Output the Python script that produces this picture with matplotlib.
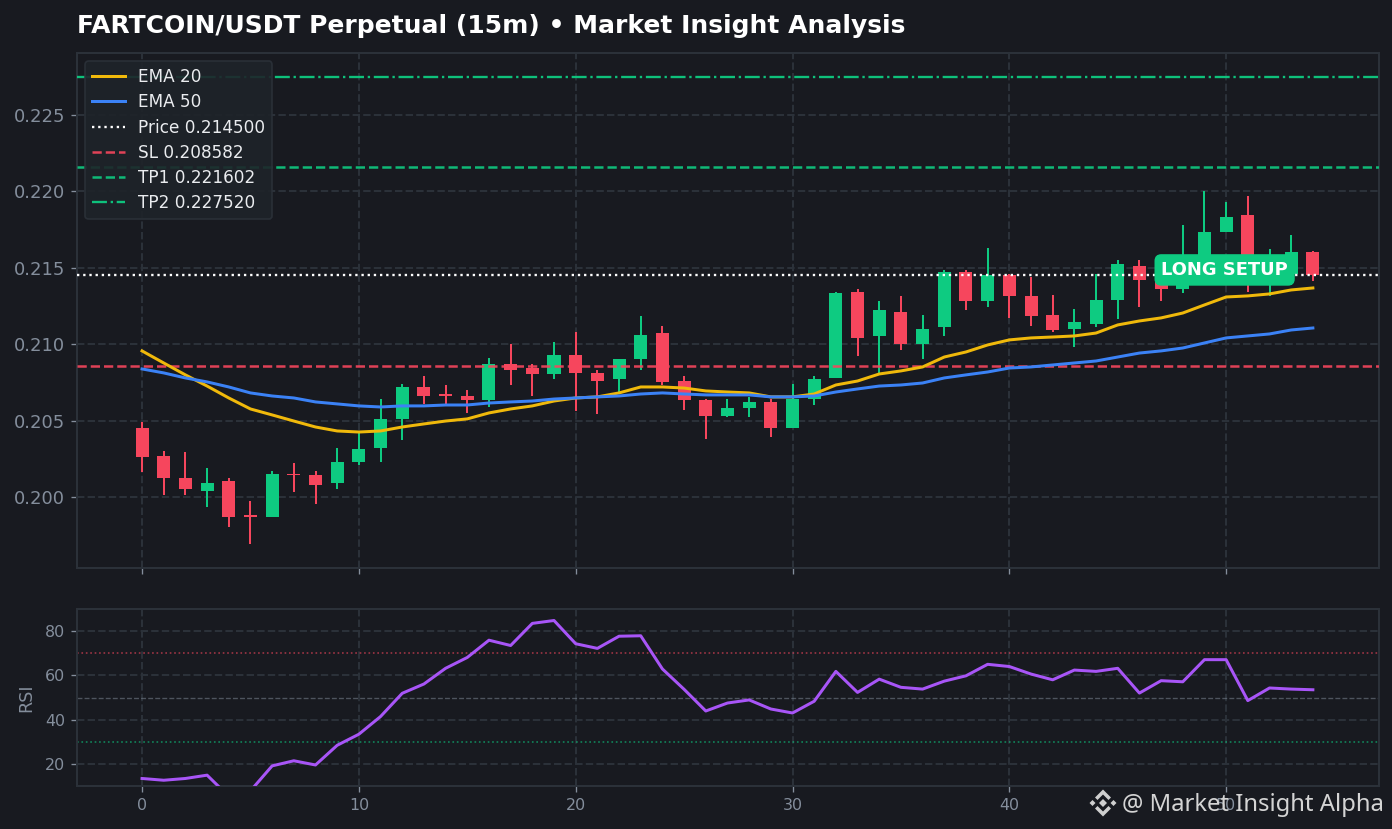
#!/usr/bin/env python3
import matplotlib
matplotlib.use("Agg")
import matplotlib.pyplot as plt
from matplotlib.patches import Polygon
import numpy as np

opens = [0.20452, 0.20268, 0.20124, 0.20039, 0.20105, 0.19882, 0.19869, 0.20151, 0.20144, 0.20092, 0.20229,
         0.20321, 0.20511, 0.20720, 0.20674, 0.20661, 0.20635, 0.20870, 0.20844, 0.20805, 0.20929, 0.20812,
         0.20772, 0.20903, 0.21073, 0.20759, 0.20635, 0.20530, 0.20583, 0.20622, 0.20452, 0.20641, 0.20779,
         0.21342, 0.21054, 0.21211, 0.21001, 0.21113, 0.21473, 0.21283, 0.21453, 0.21316, 0.21191, 0.21100,
         0.21132, 0.21289, 0.21512, 0.21499, 0.21361, 0.21538, 0.21734, 0.21846, 0.21420, 0.21460, 0.21604]
highs = [0.20491, 0.20301, 0.20295, 0.20190, 0.20124, 0.19974, 0.20170, 0.20223, 0.20170, 0.20321, 0.20425,
         0.20641, 0.20740, 0.20792, 0.20733, 0.20700, 0.20910, 0.21001, 0.20870, 0.21014, 0.21080, 0.20831,
         0.20903, 0.21185, 0.21119, 0.20792, 0.20641, 0.20641, 0.20655, 0.20641, 0.20740, 0.20792, 0.21342,
         0.21361, 0.21283, 0.21316, 0.21191, 0.21486, 0.21486, 0.21630, 0.21460, 0.21440, 0.21322, 0.21230,
         0.21460, 0.21551, 0.21551, 0.21564, 0.21780, 0.22003, 0.21931, 0.21970, 0.21623, 0.21715, 0.21610]
lows = [0.20164, 0.20013, 0.20013, 0.19935, 0.19804, 0.19692, 0.19869, 0.20033, 0.19954, 0.20052, 0.20209,
        0.20229, 0.20373, 0.20609, 0.20602, 0.20550, 0.20589, 0.20733, 0.20661, 0.20772, 0.20563, 0.20543,
        0.20681, 0.20831, 0.20733, 0.20569, 0.20380, 0.20524, 0.20524, 0.20393, 0.20452, 0.20602, 0.20779,
        0.20923, 0.20812, 0.20962, 0.20903, 0.21054, 0.21224, 0.21244, 0.21172, 0.21119, 0.21080, 0.20982,
        0.21113, 0.21165, 0.21244, 0.21283, 0.21335, 0.21499, 0.21734, 0.21342, 0.21316, 0.21388, 0.21414]
closes = [0.20262, 0.20124, 0.20052, 0.20092, 0.19869, 0.19869, 0.20151, 0.20144, 0.20079, 0.20229, 0.20314,
          0.20511, 0.20720, 0.20661, 0.20661, 0.20635, 0.20870, 0.20831, 0.20805, 0.20929, 0.20812, 0.20759,
          0.20903, 0.21060, 0.20753, 0.20635, 0.20530, 0.20583, 0.20622, 0.20452, 0.20641, 0.20772, 0.21335,
          0.21041, 0.21224, 0.21001, 0.21100, 0.21473, 0.21283, 0.21453, 0.21316, 0.21185, 0.21093, 0.21145,
          0.21289, 0.21525, 0.21420, 0.21361, 0.21538, 0.21734, 0.21833, 0.21538, 0.21538, 0.21604, 0.21453]
ema20 = [0.20956, 0.20877, 0.20799, 0.20726, 0.20648, 0.20576, 0.20537, 0.20497, 0.20458, 0.20432, 0.20425,
         0.20432, 0.20458, 0.20478, 0.20497, 0.20511, 0.20550, 0.20576, 0.20596, 0.20628, 0.20648, 0.20655,
         0.20681, 0.20720, 0.20720, 0.20713, 0.20694, 0.20687, 0.20681, 0.20655, 0.20655, 0.20674, 0.20733,
         0.20759, 0.20805, 0.20825, 0.20851, 0.20916, 0.20949, 0.20995, 0.21028, 0.21041, 0.21047, 0.21054,
         0.21073, 0.21126, 0.21152, 0.21172, 0.21204, 0.21257, 0.21309, 0.21316, 0.21329, 0.21355, 0.21368]
ema50 = [0.20838, 0.20812, 0.20779, 0.20753, 0.20720, 0.20681, 0.20661, 0.20648, 0.20622, 0.20609, 0.20596,
         0.20589, 0.20596, 0.20596, 0.20602, 0.20602, 0.20615, 0.20622, 0.20628, 0.20641, 0.20648, 0.20655,
         0.20661, 0.20674, 0.20681, 0.20674, 0.20668, 0.20668, 0.20668, 0.20655, 0.20655, 0.20661, 0.20687,
         0.20707, 0.20726, 0.20733, 0.20746, 0.20779, 0.20799, 0.20818, 0.20844, 0.20851, 0.20864, 0.20877,
         0.20890, 0.20916, 0.20942, 0.20956, 0.20975, 0.21008, 0.21041, 0.21054, 0.21067, 0.21093, 0.21106]
rsi = [13.4, 12.6, 13.4, 14.9, 5.3, 7.8, 19.1, 21.4, 19.5, 28.4, 33.4, 41.4, 51.9, 56.1, 63.2, 68.1, 75.9,
       73.5, 83.5, 84.8, 74.3, 72.2, 77.7, 77.9, 62.9, 53.7, 43.9, 47.5, 48.9, 44.8, 43.0, 48.3, 61.8, 52.3,
       58.3, 54.6, 53.8, 57.4, 59.8, 65.0, 64.0, 60.6, 58.0, 62.4, 61.8, 63.2, 52.0, 57.6, 57.1, 67.1, 67.1,
       48.6, 54.3, 53.8, 53.5]

price = 0.2145
sl = 0.208582
tp1 = 0.221602
tp2 = 0.22752

BG = "#181a20"
GRID = "#2b3139"
MUTED = "#848e9c"
GREEN = "#0ecb81"
RED = "#f6465d"
GOLD = "#f0b90b"
BLUE = "#3b82f6"
PURPLE = "#a855f7"

W, H = 1392, 829
DPI = 120


def px_axes(left, top, right, bottom):
    return [left / W, 1 - bottom / H, (right - left) / W, (bottom - top) / H]


def style_axes(ax):
    ax.set_facecolor(BG)
    ax.grid(True, color=GRID, linestyle="--", linewidth=1.2, zorder=0)
    ax.set_axisbelow(True)
    ax.tick_params(colors=MUTED, labelsize=9.5, length=3.5, width=0.8)
    for s in ax.spines.values():
        s.set_color(GRID)
        s.set_linewidth(1.2)


fig = plt.figure(figsize=(W / DPI, H / DPI), dpi=DPI, facecolor=BG)
ax = fig.add_axes(px_axes(77, 53, 1379, 568))
ax_rsi = fig.add_axes(px_axes(77, 609, 1379, 786), sharex=ax)
style_axes(ax)
style_axes(ax_rsi)

x = np.arange(len(closes))
o = np.array(opens)
c = np.array(closes)
colors = [GREEN if up else RED for up in c >= o]

ax.vlines(x, lows, highs, colors=colors, linewidth=1.2, zorder=2)
ax.bar(x, np.abs(c - o), bottom=np.minimum(o, c), width=0.6, color=colors, linewidth=0, zorder=3)

ax.axhline(price, color="white", linestyle=":", linewidth=1.4, zorder=4, label=f"Price {price:.6f}")
ax.axhline(sl, color=RED, linestyle="--", linewidth=1.5, alpha=0.9, zorder=4, label=f"SL {sl:.6f}")
ax.axhline(tp1, color=GREEN, linestyle="--", linewidth=1.5, alpha=0.9, zorder=4, label=f"TP1 {tp1:.6f}")
ax.axhline(tp2, color=GREEN, linestyle="-.", linewidth=1.4, alpha=0.95, zorder=4, label=f"TP2 {tp2:.6f}")
ax.plot(x, ema20, color=GOLD, linewidth=1.8, zorder=5, label="EMA 20")
ax.plot(x, ema50, color=BLUE, linewidth=1.8, zorder=5, label="EMA 50")

ax.set_xlim(-3, 57.05)
ax.set_ylim(0.19535, 0.22906)
ax.set_xticks(range(0, 60, 10))
ax.set_yticks([0.200, 0.205, 0.210, 0.215, 0.220, 0.225])
ax.set_yticklabels(["0.200", "0.205", "0.210", "0.215", "0.220", "0.225"])
ax.tick_params(axis="x", labelbottom=False)
ax.tick_params(axis="y", labelsize=10.8)

handles, labels = ax.get_legend_handles_labels()
order = [4, 5, 0, 1, 2, 3]
leg = ax.legend([handles[i] for i in order], [labels[i] for i in order], loc="upper left",
                facecolor="#1e2329", edgecolor=GRID, framealpha=0.9, labelcolor="#eaecef",
                fontsize=10.1, labelspacing=0.43, handlelength=1.95)
leg.set_zorder(6)

ax.text(49.93, 0.21486, "LONG SETUP", color="white", fontweight="bold", fontsize=10.75, ha="center", va="center",
        zorder=7, bbox=dict(boxstyle="round,pad=0.33", facecolor=GREEN, edgecolor=GREEN))

ax_rsi.axhline(70, color=RED, linestyle=":", linewidth=1.0, alpha=0.6, zorder=1)
ax_rsi.axhline(30, color=GREEN, linestyle=":", linewidth=1.0, alpha=0.6, zorder=1)
ax_rsi.axhline(50, color=MUTED, linestyle="--", linewidth=0.8, alpha=0.5, zorder=1)
ax_rsi.plot(x, rsi, color=PURPLE, linewidth=1.8, zorder=3)
ax_rsi.set_ylim(10, 90)
ax_rsi.set_yticks([20, 40, 60, 80])
ax_rsi.set_ylabel("RSI", color=MUTED, fontsize=10.5, labelpad=6)

fig.text(77 / W, 1 - 33 / H, "FARTCOIN/USDT Perpetual (15m) • Market Insight Analysis",
         color="white", fontweight="bold", fontsize=15, ha="left", va="baseline")

# watermark: logo is drawn in pixel space, relative to its centre
fig.text(1122 / W, 1 - 811 / H, "@ Market Insight Alpha", color="#d4d4d4", family="Noto Sans",
         fontsize=14.3, ha="left", va="baseline", zorder=10)
logo_shapes = [
    [(0, -4), (4, 0), (0, 4), (-4, 0)],
    [(-13.5, 0), (-10.5, -3), (-7.5, 0), (-10.5, 3)],
    [(13.5, 0), (10.5, -3), (7.5, 0), (10.5, 3)],
    [(0, -13.5), (8, -5.5), (5.5, -3), (0, -8.5), (-5.5, -3), (-8, -5.5)],
    [(0, 13.5), (8, 5.5), (5.5, 3), (0, 8.5), (-5.5, 3), (-8, 5.5)],
]
for shape in logo_shapes:
    pts = [((1103 + dx) / W, 1 - (803 + dy) / H) for dx, dy in shape]
    fig.add_artist(Polygon(pts, closed=True, transform=fig.transFigure, facecolor="#cfcfcf", edgecolor="none"))

fig.savefig("out.png", dpi=DPI, facecolor=BG)
